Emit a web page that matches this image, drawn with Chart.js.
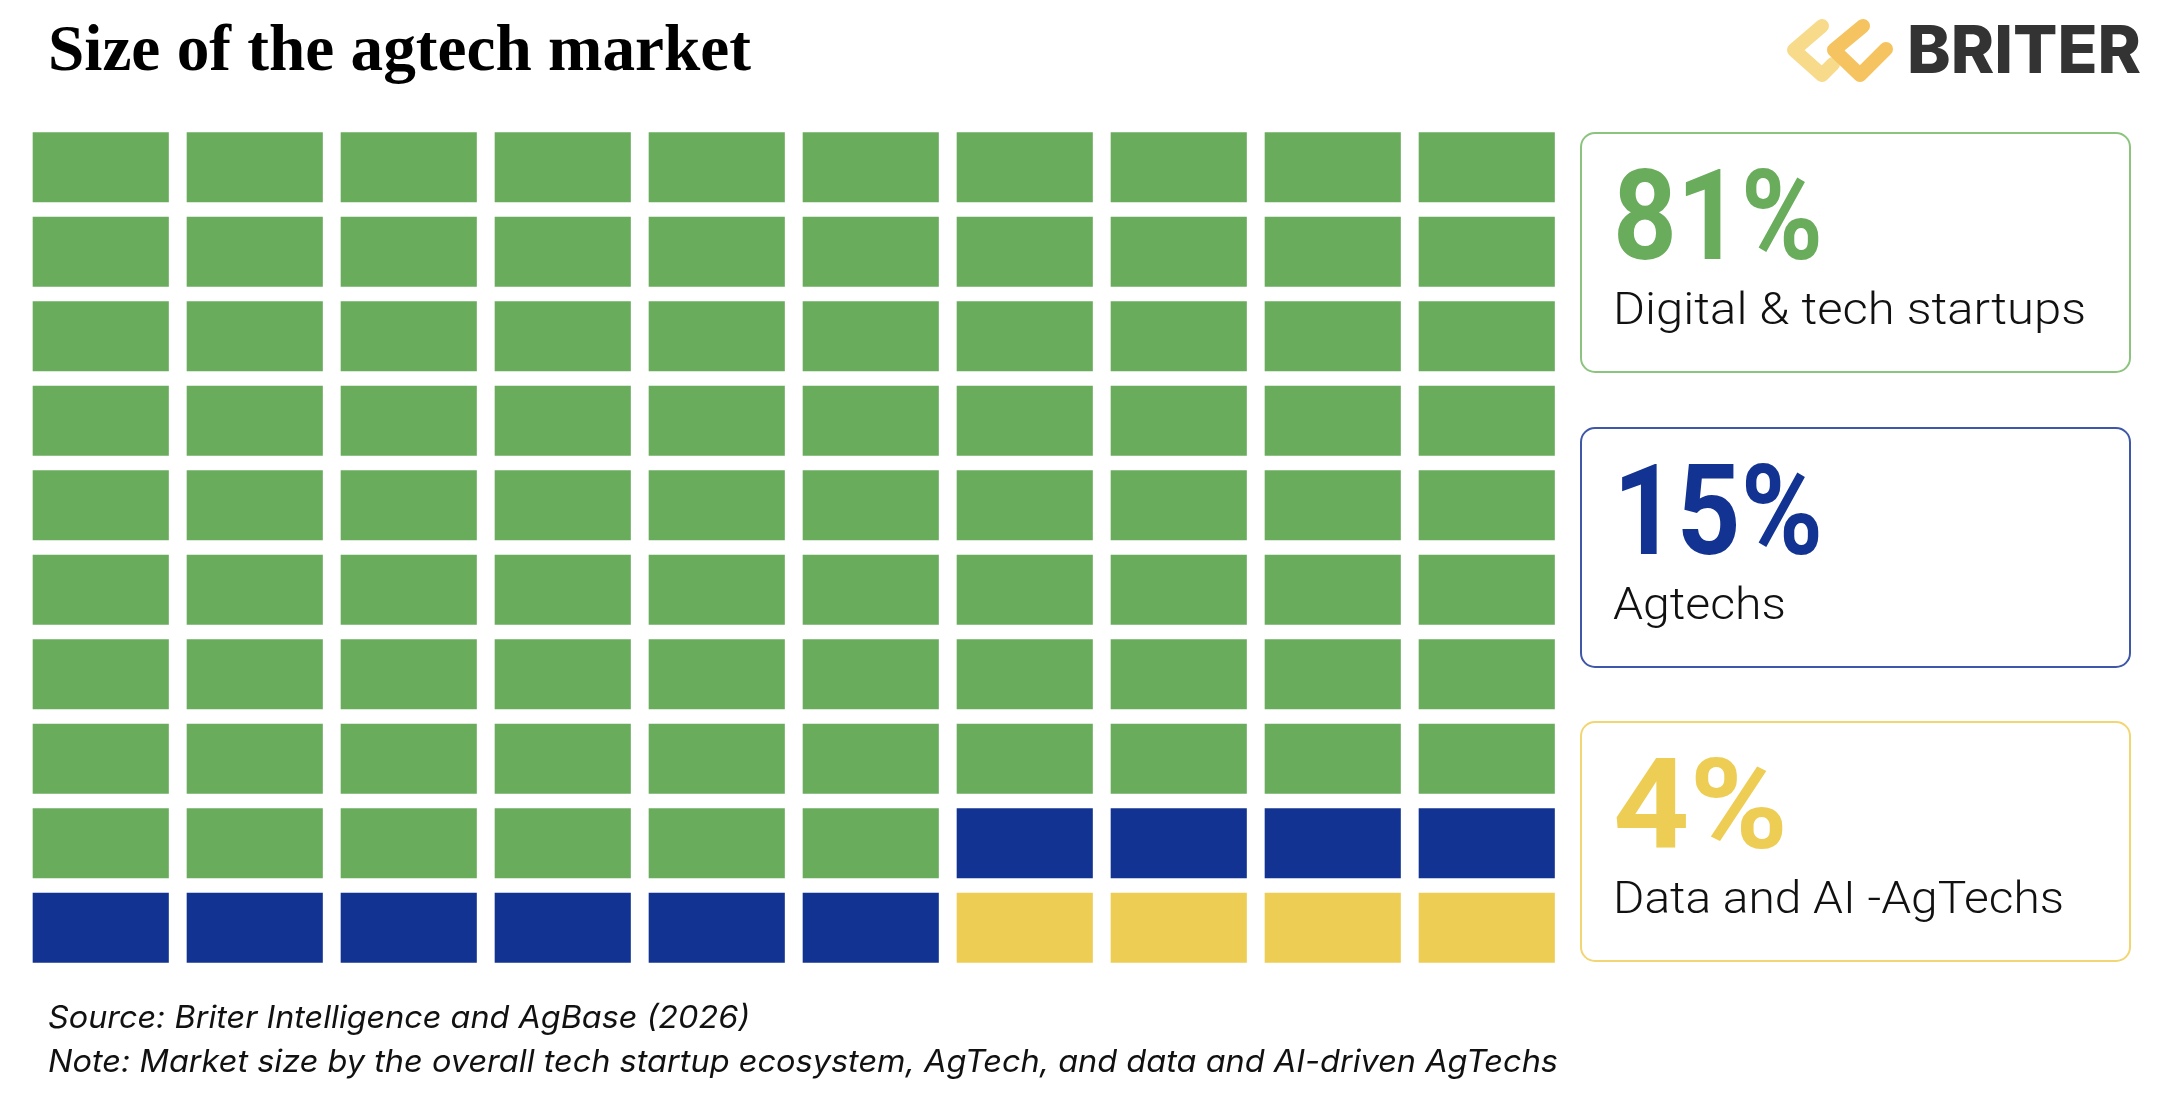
<!DOCTYPE html>
<html>
<head>
<meta charset="utf-8">
<title>Size of the agtech market</title>
<script src="https://cdn.jsdelivr.net/npm/chart.js@4.4.1/dist/chart.umd.min.js"></script>
<style>
  html, body { margin: 0; padding: 0; background: #ffffff; }
  #wrap { position: relative; width: 2162px; height: 1110px; overflow: hidden; }
  #waffle { position: absolute; left: 0; top: 0; }
  #overlay { position: absolute; left: 0; top: 0; }
</style>
</head>
<body>
<div id="wrap">
  <canvas id="waffle" width="2162" height="1110"></canvas>
  <svg id="overlay" width="2162" height="1110" xmlns="http://www.w3.org/2000/svg">
    <!-- titulo -->
    <text x="48" y="70" font-family="Liberation Serif" font-weight="700" font-size="65" fill="#000"
          textLength="703" lengthAdjust="spacingAndGlyphs">Size of the agtech market</text>
    <!-- logo -->
    <g fill="none" stroke-linejoin="round" stroke-linecap="round" stroke-width="14">
      <polyline points="1822,26 1794,50 1822,75 1833,64" stroke="#f7da8a"/>
      <polyline points="1863,26 1834,50 1860,75 1886,49" stroke="#f5c35f"/>
    </g>
    <text x="1907" y="73" font-family="Inter" font-weight="800" font-size="66" fill="#333333"
          textLength="234" lengthAdjust="spacingAndGlyphs">BRITER</text>
    <!-- leyenda (se llena desde JS) -->
    <g id="legend"></g>
    <!-- notas -->
    <text x="48" y="1028" font-family="Inter" font-style="italic" font-size="31" fill="#111"
          textLength="702" lengthAdjust="spacingAndGlyphs">Source: Briter Intelligence and AgBase (2026)</text>
    <text x="48" y="1072" font-family="Inter" font-style="italic" font-size="31" fill="#111"
          textLength="1510" lengthAdjust="spacingAndGlyphs">Note: Market size by the overall tech startup ecosystem, AgTech, and data and AI-driven AgTechs</text>
  </svg>
</div>

<script>
// Datos
const categories = ['Digital & tech startups', 'Agtechs', 'Data and AI -AgTechs'];
const shares = [81, 15, 4];          // porcentajes en las cajas
const cellCounts = [86, 10, 4];      // cuadros dibujados en la grilla
const columnLabels = ['1', '2', '3', '4', '5', '6', '7', '8', '9', '10'];
const rowLabels = ['1', '2', '3', '4', '5', '6', '7', '8', '9', '10'];

// Estilos
const fillColors = ['#69ac5c', '#123391', '#edcd53'];
const boxBorders = ['#8cc47f', '#3f57a8', '#f1d673'];
const boxTops = [133, 428, 722];

// Categoria de cada celda, llenando fila por fila desde arriba
function cellCategory(index) {
  let acc = 0;
  for (let k = 0; k < cellCounts.length; k++) {
    acc += cellCounts[k];
    if (index < acc) return k;
  }
  return cellCounts.length - 1;
}

const pad = 0.0858; // hueco vertical entre filas
const datasets = rowLabels.map((rowName, r) => ({
  label: 'Fila ' + rowName,
  data: columnLabels.map(() => [r + pad, r + 1 - pad]),
  backgroundColor: columnLabels.map((_, c) => fillColors[cellCategory(r * columnLabels.length + c)]),
  borderWidth: 0,
  barPercentage: 0.884,
  categoryPercentage: 1
}));

const chart = new Chart(document.getElementById('waffle').getContext('2d'), {
  type: 'bar',
  data: { labels: columnLabels, datasets: datasets },
  options: {
    responsive: false,
    animation: false,
    devicePixelRatio: 1,
    grouped: false,
    layout: { padding: { left: 23.75, right: 598.25, top: 125.05, bottom: 139.95 } },
    plugins: { legend: { display: false }, tooltip: { enabled: false } },
    scales: {
      x: { display: false, offset: true },
      y: { display: false, min: 0, max: rowLabels.length, reverse: true }
    }
  }
});

// Cajas de la leyenda
const svgNS = 'http://www.w3.org/2000/svg';
const legend = document.getElementById('legend');
function svgEl(tag, attrs, text) {
  const el = document.createElementNS(svgNS, tag);
  Object.entries(attrs).forEach(([k, v]) => el.setAttribute(k, v));
  if (text) el.textContent = text;
  legend.appendChild(el);
  return el;
}
const numWidths = [210, 210, 175];
const labelWidths = [473, 173, 451];
categories.forEach((name, i) => {
  const top = boxTops[i];
  svgEl('rect', { x: 1581, y: top, width: 549, height: 239, rx: 14, ry: 14,
    fill: 'none', stroke: boxBorders[i], 'stroke-width': 2 });
  svgEl('text', { x: 1613, y: top + 126, 'font-family': 'Roboto', 'font-weight': 700,
    'font-size': 126, fill: fillColors[i], textLength: numWidths[i], lengthAdjust: 'spacingAndGlyphs' },
    shares[i] + '%');
  svgEl('text', { x: 1613, y: top + 191, 'font-family': 'Roboto', 'font-weight': 300,
    'font-size': 45, fill: '#111', textLength: labelWidths[i], lengthAdjust: 'spacingAndGlyphs' }, name);
});
</script>
</body>
</html>
